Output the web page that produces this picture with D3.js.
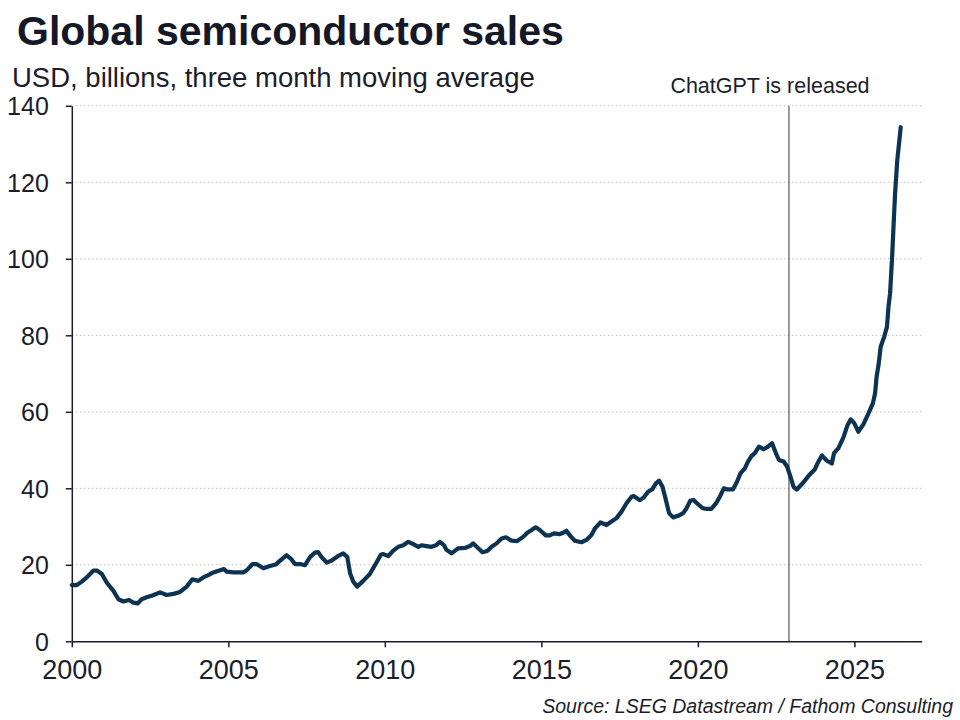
<!DOCTYPE html>
<html>
<head>
<meta charset="utf-8">
<script src="https://cdn.jsdelivr.net/npm/d3@7"></script>
<style>
    body { margin: 0; background: #fff; }
    svg { display: block; font-family: "Liberation Sans", Arial, sans-serif; }
</style>
</head>
<body>
<svg id="chart" width="960" height="720"></svg>
<script>
// decimal year of each reading
let dates = [
    2000.00, 2000.16, 2000.32, 2000.48, 2000.69, 2000.80, 2000.96, 2001.12, 2001.33, 2001.49,
    2001.65, 2001.83, 2001.97, 2002.10, 2002.23, 2002.39, 2002.55, 2002.82, 2003.03, 2003.25,
    2003.46, 2003.67, 2003.85, 2004.04, 2004.20, 2004.36, 2004.52, 2004.74, 2004.86, 2004.95,
    2005.16, 2005.48, 2005.59, 2005.78, 2005.90, 2006.12, 2006.33, 2006.52, 2006.70, 2006.86,
    2007.02, 2007.13, 2007.29, 2007.45, 2007.61, 2007.77, 2007.87, 2007.98, 2008.14, 2008.30,
    2008.51, 2008.67, 2008.80, 2008.89, 2008.99, 2009.12, 2009.31, 2009.52, 2009.72, 2009.87,
    2009.95, 2010.11, 2010.27, 2010.43, 2010.59, 2010.75, 2010.91, 2011.07, 2011.18, 2011.33,
    2011.49, 2011.63, 2011.76, 2011.89, 2011.97, 2012.13, 2012.34, 2012.56, 2012.72, 2012.82,
    2012.95, 2013.12, 2013.27, 2013.41, 2013.57, 2013.73, 2013.87, 2014.05, 2014.23, 2014.42,
    2014.55, 2014.69, 2014.82, 2014.95, 2015.14, 2015.27, 2015.40, 2015.57, 2015.70, 2015.80,
    2015.93, 2016.07, 2016.28, 2016.44, 2016.60, 2016.71, 2016.89, 2017.08, 2017.24, 2017.40,
    2017.56, 2017.72, 2017.88, 2017.95, 2018.15, 2018.27, 2018.41, 2018.54, 2018.66, 2018.76,
    2018.87, 2018.98, 2019.08, 2019.21, 2019.37, 2019.53, 2019.64, 2019.76, 2019.87, 2019.97,
    2020.15, 2020.29, 2020.43, 2020.59, 2020.70, 2020.83, 2020.96, 2021.12, 2021.25, 2021.36,
    2021.50, 2021.60, 2021.71, 2021.82, 2021.95, 2022.10, 2022.24, 2022.37, 2022.49, 2022.59,
    2022.74, 2022.85, 2022.96, 2023.06, 2023.16, 2023.37, 2023.56, 2023.74, 2023.82, 2023.96,
    2024.12, 2024.28, 2024.35, 2024.49, 2024.65, 2024.78, 2024.88, 2024.99, 2025.13, 2025.29,
    2025.45, 2025.59, 2025.66, 2025.71, 2025.77, 2025.84, 2025.95, 2026.04, 2026.09, 2026.14,
    2026.20, 2026.25, 2026.30, 2026.37, 2026.48
];

// USD billions, three month moving average
let sales = [
    14.7, 14.7, 15.6, 16.7, 18.5, 18.5, 17.6, 15.3, 13.2, 11.0,
    10.4, 10.8, 10.1, 9.9, 11.0, 11.5, 11.9, 12.8, 12.1, 12.4,
    12.9, 14.3, 16.2, 15.8, 16.7, 17.3, 18.0, 18.6, 18.9, 18.2,
    18.0, 18.0, 18.6, 20.2, 20.2, 19.1, 19.7, 20.1, 21.4, 22.5,
    21.4, 20.2, 20.2, 19.9, 22.0, 23.2, 23.3, 22.0, 20.6, 21.1,
    22.3, 23.0, 22.0, 17.8, 15.6, 14.3, 15.8, 17.6, 20.4, 22.6,
    22.8, 22.3, 23.7, 24.7, 25.1, 26.0, 25.4, 24.7, 25.1, 24.9,
    24.7, 25.1, 26.0, 25.1, 23.9, 23.0, 24.3, 24.4, 24.9, 25.6,
    24.6, 23.3, 23.6, 24.7, 25.6, 26.9, 27.2, 26.3, 26.2, 27.3,
    28.4, 29.1, 29.8, 29.1, 27.7, 27.7, 28.2, 28.0, 28.4, 28.9,
    27.5, 26.3, 25.9, 26.5, 27.8, 29.5, 31.1, 30.4, 31.3, 32.2,
    33.9, 36.1, 37.8, 38.0, 36.9, 37.6, 39.1, 39.7, 41.3, 42.0,
    40.4, 36.9, 33.5, 32.4, 32.8, 33.5, 34.8, 36.8, 36.9, 36.1,
    34.8, 34.6, 34.6, 36.2, 37.8, 40.0, 39.7, 39.7, 41.7, 43.9,
    45.2, 47.0, 48.4, 49.2, 50.9, 50.2, 50.9, 51.8, 49.2, 47.4,
    47.0, 45.7, 43.0, 40.3, 39.7, 41.5, 43.5, 45.0, 46.5, 48.6,
    47.2, 46.5, 49.2, 50.5, 53.3, 56.5, 58.0, 57.1, 54.8, 56.8,
    59.6, 62.2, 64.8, 69.2, 72.2, 77.0, 79.6, 82.2, 87.5, 91.0,
    99.7, 108.4, 117.1, 125.8, 134.4
];

let xTicks = [2000, 2005, 2010, 2015, 2020, 2025];
let yTicks = [0, 20, 40, 60, 80, 100, 120, 140];

// ChatGPT release, 30 Nov 2022
let chatgptDate = 2022.91;
let chatgptLabel = "ChatGPT is released";

let data = dates.map((d, i) => ({date: d, value: sales[i]}));

let svg = d3.select("#chart");
let ink = "#1b1d2b";

let x_scale = d3.scaleLinear()
    .domain([2000, 2027.15])
    .range([71.8, 921.7]);

let y_scale = d3.scaleLinear()
    .domain([0, 140])
    .range([641.3, 105.8]);

// gridlines
svg.append("g")
    .selectAll("line")
    .data(yTicks.filter(d => d > 0))
    .join("line")
    .attr("x1", x_scale.range()[0])
    .attr("x2", x_scale.range()[1])
    .attr("y1", d => y_scale(d))
    .attr("y2", d => y_scale(d))
    .attr("stroke", "#bcbcbc")
    .attr("stroke-width", 1)
    .attr("stroke-dasharray", "1.5,2.5");

// vertical marker line
svg.append("line")
    .attr("x1", x_scale(chatgptDate))
    .attr("x2", x_scale(chatgptDate))
    .attr("y1", y_scale(140))
    .attr("y2", y_scale(0))
    .attr("stroke", "#333333")
    .attr("stroke-width", 1);

svg.append("text")
    .attr("x", x_scale(chatgptDate) - 19)
    .attr("y", 93)
    .attr("text-anchor", "middle")
    .style("font-size", "21.5px")
    .attr("fill", ink)
    .text(chatgptLabel);

// x axis
svg.append("g")
    .attr("transform", `translate(0,${y_scale(0)})`)
    .call(d3.axisBottom(x_scale)
        .tickValues(xTicks)
        .tickFormat(d3.format("d"))
        .tickSize(6)
        .tickSizeOuter(0)
        .tickPadding(13))
    .call(g => g.select(".domain").attr("stroke", ink).attr("stroke-width", 1.5))
    .call(g => g.selectAll(".tick line").attr("stroke", ink).attr("stroke-width", 1.5))
    .call(g => g.selectAll(".tick text")
        .style("font-size", "27px")
        .style("font-family", "Liberation Sans, Arial, sans-serif")
        .attr("fill", ink));

// y axis
svg.append("g")
    .attr("transform", `translate(${x_scale(2000)},0)`)
    .call(d3.axisLeft(y_scale)
        .tickValues(yTicks)
        .tickSize(6)
        .tickSizeOuter(0)
        .tickPadding(17))
    .call(g => g.select(".domain").attr("stroke", ink).attr("stroke-width", 1.5))
    .call(g => g.selectAll(".tick line").attr("stroke", ink).attr("stroke-width", 1.5))
    .call(g => g.selectAll(".tick text")
        .attr("dy", "0.36em")
        .style("font-size", "25px")
        .style("font-family", "Liberation Sans, Arial, sans-serif")
        .attr("fill", ink));

// sales line
let line = d3.line()
    .x(d => x_scale(d.date))
    .y(d => y_scale(d.value));

svg.append("path")
    .datum(data)
    .attr("fill", "none")
    .attr("stroke", "#0c3352")
    .attr("stroke-width", 4.2)
    .attr("stroke-linejoin", "round")
    .attr("stroke-linecap", "round")
    .attr("d", line);

// title
svg.append("text")
    .attr("x", 17)
    .attr("y", 45)
    .style("font-size", "41px")
    .style("font-weight", "bold")
    .attr("fill", "#141827")
    .text("Global semiconductor sales");

// subtitle
svg.append("text")
    .attr("x", 12)
    .attr("y", 87)
    .style("font-size", "27.5px")
    .attr("fill", ink)
    .text("USD, billions, three month moving average");

// source
svg.append("text")
    .attr("x", 953)
    .attr("y", 713)
    .attr("text-anchor", "end")
    .style("font-size", "19.5px")
    .style("font-style", "italic")
    .attr("fill", ink)
    .text("Source: LSEG Datastream / Fathom Consulting");
</script>
</body>
</html>
